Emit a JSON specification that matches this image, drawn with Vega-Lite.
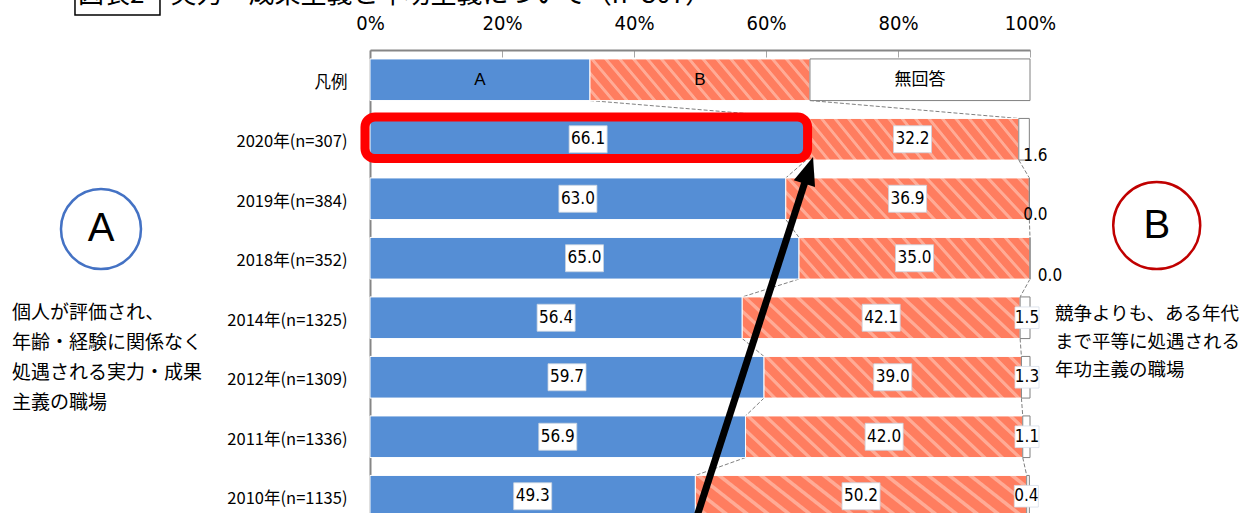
{
  "$schema": "https://vega.github.io/schema/vega-lite/v6.json",
  "autosize": {"type": "none"},
  "padding": {"left": 370, "top": 50, "right": 220, "bottom": 0},
  "width": 660,
  "height": 476,
  "background": "white",
  "title": {"text": "図表2　実力・成果主義と年功主義について（n=307）", "anchor": "start", "frame": "group", "dx": -292, "dy": 30, "offset": 0, "fontSize": 26, "fontWeight": "normal", "font": "Noto Sans CJK JP", "color": "black"},
  "config": {
    "view": {"stroke": null},
    "axis": {"domainColor": "#868686", "domainWidth": 2, "tickColor": "#a6a6a6", "labelColor": "black", "grid": false}
  },
  "datasets": {
    "survey": [
      {"row": "凡例", "cat": "A", "value": 33.33},
      {"row": "凡例", "cat": "B", "value": 33.33},
      {"row": "凡例", "cat": "無回答", "value": 33.34},
      {"row": "2020年(n=307)", "cat": "A", "value": 66.1},
      {"row": "2020年(n=307)", "cat": "B", "value": 32.2},
      {"row": "2020年(n=307)", "cat": "無回答", "value": 1.6},
      {"row": "2019年(n=384)", "cat": "A", "value": 63.0},
      {"row": "2019年(n=384)", "cat": "B", "value": 36.9},
      {"row": "2019年(n=384)", "cat": "無回答", "value": 0.0},
      {"row": "2018年(n=352)", "cat": "A", "value": 65.0},
      {"row": "2018年(n=352)", "cat": "B", "value": 35.0},
      {"row": "2018年(n=352)", "cat": "無回答", "value": 0.0},
      {"row": "2014年(n=1325)", "cat": "A", "value": 56.4},
      {"row": "2014年(n=1325)", "cat": "B", "value": 42.1},
      {"row": "2014年(n=1325)", "cat": "無回答", "value": 1.5},
      {"row": "2012年(n=1309)", "cat": "A", "value": 59.7},
      {"row": "2012年(n=1309)", "cat": "B", "value": 39.0},
      {"row": "2012年(n=1309)", "cat": "無回答", "value": 1.3},
      {"row": "2011年(n=1336)", "cat": "A", "value": 56.9},
      {"row": "2011年(n=1336)", "cat": "B", "value": 42.0},
      {"row": "2011年(n=1336)", "cat": "無回答", "value": 1.1},
      {"row": "2010年(n=1135)", "cat": "A", "value": 49.3},
      {"row": "2010年(n=1135)", "cat": "B", "value": 50.2},
      {"row": "2010年(n=1135)", "cat": "無回答", "value": 0.4}
    ]
  },
  "data": {"name": "survey"},
  "layer": [
    {
      "transform": [
        {"stack": "value", "groupby": ["row"], "sort": [{"field": "cat"}], "as": ["x0", "x1"]},
        {"filter": "datum.cat !== '無回答'"},
        {"window": [{"op": "lead", "field": "x1", "as": "nx"}, {"op": "lead", "field": "row", "as": "nrow"}], "groupby": ["cat"], "sort": [{"field": "row", "order": "descending"}]},
        {"filter": "datum.nrow != null"}
      ],
      "mark": {"type": "rule", "color": "#808080", "strokeWidth": 1, "strokeDash": [4, 2], "yOffset": 20.8, "y2Offset": -20.8},
      "encoding": {
        "x": {"field": "x1", "type": "quantitative", "title": null, "scale": {"domain": [0, 100], "nice": false, "zero": false},
              "axis": {"orient": "top", "values": [0, 20, 40, 60, 80, 100], "labelExpr": "datum.value + '%'", "tickSize": -7, "labelPadding": 24, "labelFontSize": 20, "labelFont": "DejaVu Sans Condensed, Liberation Sans, sans-serif", "labelFlush": false, "labelOverlap": false, "title": null}},
        "x2": {"field": "nx"},
        "y": {"field": "row", "type": "nominal", "title": null,
              "sort": ["凡例", "2020年(n=307)", "2019年(n=384)", "2018年(n=352)", "2014年(n=1325)", "2012年(n=1309)", "2011年(n=1336)", "2010年(n=1135)"],
              "scale": {"paddingInner": 0.3, "paddingOuter": 0.15},
              "axis": {"ticks": false, "labelPadding": 23, "labelOffset": 3, "labelFontSize": 16.5, "labelFont": "Noto Sans CJK JP", "title": null}},
        "y2": {"field": "nrow"}
      }
    },
    {
      "transform": [
        {"stack": "value", "groupby": ["row"], "sort": [{"field": "cat"}], "as": ["x0", "x1"]}
      ],
      "mark": {"type": "bar", "strokeWidth": 1},
      "encoding": {
        "x": {"field": "x0", "type": "quantitative", "title": null},
        "x2": {"field": "x1"},
        "y": {"field": "row", "type": "nominal", "title": null,
              "sort": ["凡例", "2020年(n=307)", "2019年(n=384)", "2018年(n=352)", "2014年(n=1325)", "2012年(n=1309)", "2011年(n=1336)", "2010年(n=1135)"]},
        "fill": {
          "condition": [
            {"test": "datum.cat === 'A'", "value": "#558ED5"},
            {"test": "datum.cat === 'B'", "value": {"gradient": "linear", "x1": -0.17, "y1": 0, "x2": 1, "y2": -0.187, "stops": [
              {"offset": 0, "color": "#FF7D5F"}, {"offset": 0.0342, "color": "#FF7D5F"}, {"offset": 0.0382, "color": "#FFAB96"}, {"offset": 0.0486, "color": "#FFAB96"},
              {"offset": 0.0526, "color": "#FF7D5F"}, {"offset": 0.0868, "color": "#FF7D5F"}, {"offset": 0.0908, "color": "#FFAB96"}, {"offset": 0.1013, "color": "#FFAB96"},
              {"offset": 0.1053, "color": "#FF7D5F"}, {"offset": 0.1395, "color": "#FF7D5F"}, {"offset": 0.1435, "color": "#FFAB96"}, {"offset": 0.1539, "color": "#FFAB96"},
              {"offset": 0.1579, "color": "#FF7D5F"}, {"offset": 0.1921, "color": "#FF7D5F"}, {"offset": 0.1961, "color": "#FFAB96"}, {"offset": 0.2065, "color": "#FFAB96"},
              {"offset": 0.2105, "color": "#FF7D5F"}, {"offset": 0.2447, "color": "#FF7D5F"}, {"offset": 0.2487, "color": "#FFAB96"}, {"offset": 0.2592, "color": "#FFAB96"},
              {"offset": 0.2632, "color": "#FF7D5F"}, {"offset": 0.2974, "color": "#FF7D5F"}, {"offset": 0.3014, "color": "#FFAB96"}, {"offset": 0.3118, "color": "#FFAB96"},
              {"offset": 0.3158, "color": "#FF7D5F"}, {"offset": 0.35, "color": "#FF7D5F"}, {"offset": 0.354, "color": "#FFAB96"}, {"offset": 0.3644, "color": "#FFAB96"},
              {"offset": 0.3684, "color": "#FF7D5F"}, {"offset": 0.4026, "color": "#FF7D5F"}, {"offset": 0.4066, "color": "#FFAB96"}, {"offset": 0.4171, "color": "#FFAB96"},
              {"offset": 0.4211, "color": "#FF7D5F"}, {"offset": 0.4553, "color": "#FF7D5F"}, {"offset": 0.4593, "color": "#FFAB96"}, {"offset": 0.4697, "color": "#FFAB96"},
              {"offset": 0.4737, "color": "#FF7D5F"}, {"offset": 0.5079, "color": "#FF7D5F"}, {"offset": 0.5119, "color": "#FFAB96"}, {"offset": 0.5223, "color": "#FFAB96"},
              {"offset": 0.5263, "color": "#FF7D5F"}, {"offset": 0.5605, "color": "#FF7D5F"}, {"offset": 0.5645, "color": "#FFAB96"}, {"offset": 0.575, "color": "#FFAB96"},
              {"offset": 0.5789, "color": "#FF7D5F"}, {"offset": 0.6131, "color": "#FF7D5F"}, {"offset": 0.6171, "color": "#FFAB96"}, {"offset": 0.6276, "color": "#FFAB96"},
              {"offset": 0.6316, "color": "#FF7D5F"}, {"offset": 0.6658, "color": "#FF7D5F"}, {"offset": 0.6698, "color": "#FFAB96"}, {"offset": 0.6802, "color": "#FFAB96"},
              {"offset": 0.6842, "color": "#FF7D5F"}, {"offset": 0.7184, "color": "#FF7D5F"}, {"offset": 0.7224, "color": "#FFAB96"}, {"offset": 0.7328, "color": "#FFAB96"},
              {"offset": 0.7368, "color": "#FF7D5F"}, {"offset": 0.771, "color": "#FF7D5F"}, {"offset": 0.775, "color": "#FFAB96"}, {"offset": 0.7855, "color": "#FFAB96"},
              {"offset": 0.7895, "color": "#FF7D5F"}, {"offset": 0.8237, "color": "#FF7D5F"}, {"offset": 0.8277, "color": "#FFAB96"}, {"offset": 0.8381, "color": "#FFAB96"},
              {"offset": 0.8421, "color": "#FF7D5F"}, {"offset": 0.8763, "color": "#FF7D5F"}, {"offset": 0.8803, "color": "#FFAB96"}, {"offset": 0.8907, "color": "#FFAB96"},
              {"offset": 0.8947, "color": "#FF7D5F"}, {"offset": 0.9289, "color": "#FF7D5F"}, {"offset": 0.9329, "color": "#FFAB96"}, {"offset": 0.9434, "color": "#FFAB96"},
              {"offset": 0.9474, "color": "#FF7D5F"}, {"offset": 0.9816, "color": "#FF7D5F"}, {"offset": 0.9856, "color": "#FFAB96"}, {"offset": 0.996, "color": "#FFAB96"},
              {"offset": 1, "color": "#FF7D5F"}
            ]}}
          ],
          "value": "white"
        },
        "stroke": {"condition": {"test": "datum.cat === '無回答'", "value": "#808080"}, "value": "white"}
      }
    },
    {
      "transform": [{"filter": "datum.row !== '凡例' && datum.cat !== '無回答'"}],
      "mark": {"type": "point", "shape": "M-1,-0.71H1V0.71H-1Z", "size": 1444, "filled": true, "fill": "white", "stroke": "#c9d3e0", "strokeWidth": 0.8, "opacity": 1},
      "encoding": {
        "x": {"field": "value", "type": "quantitative", "stack": "zero", "bandPosition": 0.5, "title": null},
        "y": {"field": "row", "type": "nominal", "title": null,
              "sort": ["凡例", "2020年(n=307)", "2019年(n=384)", "2018年(n=352)", "2014年(n=1325)", "2012年(n=1309)", "2011年(n=1336)", "2010年(n=1135)"]},
        "detail": {"field": "cat"},
        "order": {"field": "cat"}
      }
    },
    {
      "transform": [{"filter": "datum.row !== '凡例' && datum.cat !== '無回答'"}],
      "mark": {"type": "text", "fontSize": 17, "font": "DejaVu Sans Condensed, Liberation Sans, sans-serif", "color": "black", "baseline": "middle", "align": "center"},
      "encoding": {
        "x": {"field": "value", "type": "quantitative", "stack": "zero", "bandPosition": 0.5, "title": null},
        "y": {"field": "row", "type": "nominal", "title": null,
              "sort": ["凡例", "2020年(n=307)", "2019年(n=384)", "2018年(n=352)", "2014年(n=1325)", "2012年(n=1309)", "2011年(n=1336)", "2010年(n=1135)"]},
        "detail": {"field": "cat"},
        "order": {"field": "cat"},
        "text": {"field": "value", "type": "quantitative", "format": ".1f"}
      }
    },
    {
      "transform": [{"filter": "datum.row === '凡例'"}],
      "mark": {"type": "text", "fontSize": 17, "font": "Liberation Sans, Noto Sans CJK JP", "color": "black", "baseline": "middle", "align": "center"},
      "encoding": {
        "x": {"field": "value", "type": "quantitative", "stack": "zero", "bandPosition": 0.5, "title": null},
        "y": {"field": "row", "type": "nominal", "title": null,
              "sort": ["凡例", "2020年(n=307)", "2019年(n=384)", "2018年(n=352)", "2014年(n=1325)", "2012年(n=1309)", "2011年(n=1336)", "2010年(n=1135)"]},
        "detail": {"field": "cat"},
        "order": {"field": "cat"},
        "text": {"field": "cat"}
      }
    },
    {
      "transform": [
        {"stack": "value", "groupby": ["row"], "sort": [{"field": "cat"}], "as": ["x0", "x1"]},
        {"filter": "datum.cat === '無回答' && (datum.row === '2020年(n=307)' || datum.row === '2019年(n=384)')"}
      ],
      "mark": {"type": "text", "fontSize": 17, "font": "DejaVu Sans Condensed, Liberation Sans, sans-serif", "color": "black", "baseline": "middle", "align": "center", "dx": 6, "dy": 16.5},
      "encoding": {
        "x": {"field": "x1", "type": "quantitative", "title": null},
        "y": {"field": "row", "type": "nominal", "title": null,
              "sort": ["凡例", "2020年(n=307)", "2019年(n=384)", "2018年(n=352)", "2014年(n=1325)", "2012年(n=1309)", "2011年(n=1336)", "2010年(n=1135)"]},
        "text": {"field": "value", "type": "quantitative", "format": ".1f"}
      }
    },
    {
      "transform": [
        {"stack": "value", "groupby": ["row"], "sort": [{"field": "cat"}], "as": ["x0", "x1"]},
        {"filter": "datum.cat === '無回答' && datum.row === '2018年(n=352)'"}
      ],
      "mark": {"type": "text", "fontSize": 17, "font": "DejaVu Sans Condensed, Liberation Sans, sans-serif", "color": "black", "baseline": "middle", "align": "center", "dx": 20, "dy": 17.5},
      "encoding": {
        "x": {"field": "x1", "type": "quantitative", "title": null},
        "y": {"field": "row", "type": "nominal", "title": null,
              "sort": ["凡例", "2020年(n=307)", "2019年(n=384)", "2018年(n=352)", "2014年(n=1325)", "2012年(n=1309)", "2011年(n=1336)", "2010年(n=1135)"]},
        "text": {"field": "value", "type": "quantitative", "format": ".1f"}
      }
    },
    {
      "transform": [
        {"stack": "value", "groupby": ["row"], "sort": [{"field": "cat"}], "as": ["x0", "x1"]},
        {"filter": "datum.cat === '無回答' && indexof(['2014年(n=1325)', '2012年(n=1309)', '2011年(n=1336)', '2010年(n=1135)'], datum.row) >= 0"}
      ],
      "mark": {"type": "point", "shape": "M-1,-0.9H1V0.9H-1Z", "size": 576, "filled": true, "fill": "white", "stroke": "#d6dde8", "strokeWidth": 0.8, "opacity": 1, "xOffset": -3},
      "encoding": {
        "x": {"field": "x1", "type": "quantitative", "title": null},
        "y": {"field": "row", "type": "nominal", "title": null,
              "sort": ["凡例", "2020年(n=307)", "2019年(n=384)", "2018年(n=352)", "2014年(n=1325)", "2012年(n=1309)", "2011年(n=1336)", "2010年(n=1135)"]}
      }
    },
    {
      "transform": [
        {"stack": "value", "groupby": ["row"], "sort": [{"field": "cat"}], "as": ["x0", "x1"]},
        {"filter": "datum.cat === '無回答' && indexof(['2014年(n=1325)', '2012年(n=1309)', '2011年(n=1336)', '2010年(n=1135)'], datum.row) >= 0"}
      ],
      "mark": {"type": "text", "fontSize": 17, "font": "DejaVu Sans Condensed, Liberation Sans, sans-serif", "color": "black", "baseline": "middle", "align": "center", "dx": -3},
      "encoding": {
        "x": {"field": "x1", "type": "quantitative", "title": null},
        "y": {"field": "row", "type": "nominal", "title": null,
              "sort": ["凡例", "2020年(n=307)", "2019年(n=384)", "2018年(n=352)", "2014年(n=1325)", "2012年(n=1309)", "2011年(n=1336)", "2010年(n=1135)"]},
        "text": {"field": "value", "type": "quantitative", "format": ".1f"}
      }
    },
    {
      "data": {"values": [{"note": "2020年の実力・成果主義"}]},
      "mark": {"type": "rect", "fillOpacity": 0, "stroke": "#FF0000", "strokeWidth": 9, "cornerRadius": 10, "yOffset": -1.5},
      "encoding": {
        "x": {"datum": -0.76},
        "x2": {"datum": 66.3},
        "y": {"datum": "2020年(n=307)"}
      }
    },
    {
      "data": {"values": [{"note": "arrow"}]},
      "mark": {"type": "rule", "color": "black", "strokeWidth": 7, "yOffset": 25, "y2Offset": -15.75},
      "encoding": {
        "x": {"datum": 49.3},
        "y": {"datum": "2010年(n=1135)"},
        "x2": {"datum": 65.85},
        "y2": {"datum": "2019年(n=384)"}
      }
    },
    {
      "data": {"values": [{"note": "arrowhead"}]},
      "mark": {"type": "point", "shape": "M0,-1L0.8,1L-0.8,1Z", "size": 784, "filled": true, "color": "black", "opacity": 1, "angle": 18, "strokeWidth": 0},
      "encoding": {
        "x": {"datum": 66.47},
        "y": {"datum": "2020年(n=307)", "bandPosition": 1.246}
      }
    },
    {
      "data": {"values": [{"label": "A"}]},
      "layer": [
        {"mark": {"type": "point", "shape": "circle", "size": 6400, "filled": false, "stroke": "#4472C4", "strokeWidth": 2.5, "opacity": 1},
         "encoding": {"x": {"datum": -40.76}, "y": {"datum": "2019年(n=384)", "bandPosition": 1.227}}},
        {"mark": {"type": "text", "fontSize": 40, "font": "Liberation Sans", "color": "black", "baseline": "middle", "align": "center"},
         "encoding": {"x": {"datum": -40.76}, "y": {"datum": "2019年(n=384)", "bandPosition": 1.227}, "text": {"field": "label"}}}
      ]
    },
    {
      "data": {"values": [{"label": "B"}]},
      "layer": [
        {"mark": {"type": "point", "shape": "circle", "size": 7569, "filled": false, "stroke": "#C00000", "strokeWidth": 2.5, "opacity": 1},
         "encoding": {"x": {"datum": 119.2}, "y": {"datum": "2019年(n=384)", "bandPosition": 1.143}}},
        {"mark": {"type": "text", "fontSize": 40, "font": "Liberation Sans", "color": "black", "baseline": "middle", "align": "center"},
         "encoding": {"x": {"datum": 119.2}, "y": {"datum": "2019年(n=384)", "bandPosition": 1.143}, "text": {"field": "label"}}}
      ]
    },
    {
      "data": {"values": [{"t": ["個人が評価され、", "年齢・経験に関係なく", "処遇される実力・成果", "主義の職場"]}]},
      "mark": {"type": "text", "fontSize": 19, "lineHeight": 30, "font": "Noto Sans CJK JP", "color": "black", "baseline": "middle", "align": "left"},
      "encoding": {"x": {"datum": -54.24}, "y": {"datum": "2014年(n=1325)", "bandPosition": 0.386}, "text": {"field": "t"}}
    },
    {
      "data": {"values": [{"t": ["競争よりも、ある年代", "まで平等に処遇される", "年功主義の職場"]}]},
      "mark": {"type": "text", "fontSize": 18.5, "lineHeight": 28, "font": "Noto Sans CJK JP", "color": "black", "baseline": "middle", "align": "left"},
      "encoding": {"x": {"datum": 103.79}, "y": {"datum": "2014年(n=1325)", "bandPosition": 0.41}, "text": {"field": "t"}}
    },
    {
      "data": {"values": [{"note": "図表2 枠"}]},
      "mark": {"type": "point", "shape": "M-1,-0.4H1V0.4H-1Z", "size": 7225, "filled": false, "stroke": "black", "strokeWidth": 1.5, "opacity": 1},
      "encoding": {"x": {"datum": -38.26}, "y": {"datum": "凡例", "bandPosition": -1.462}}
    }
  ]
}
